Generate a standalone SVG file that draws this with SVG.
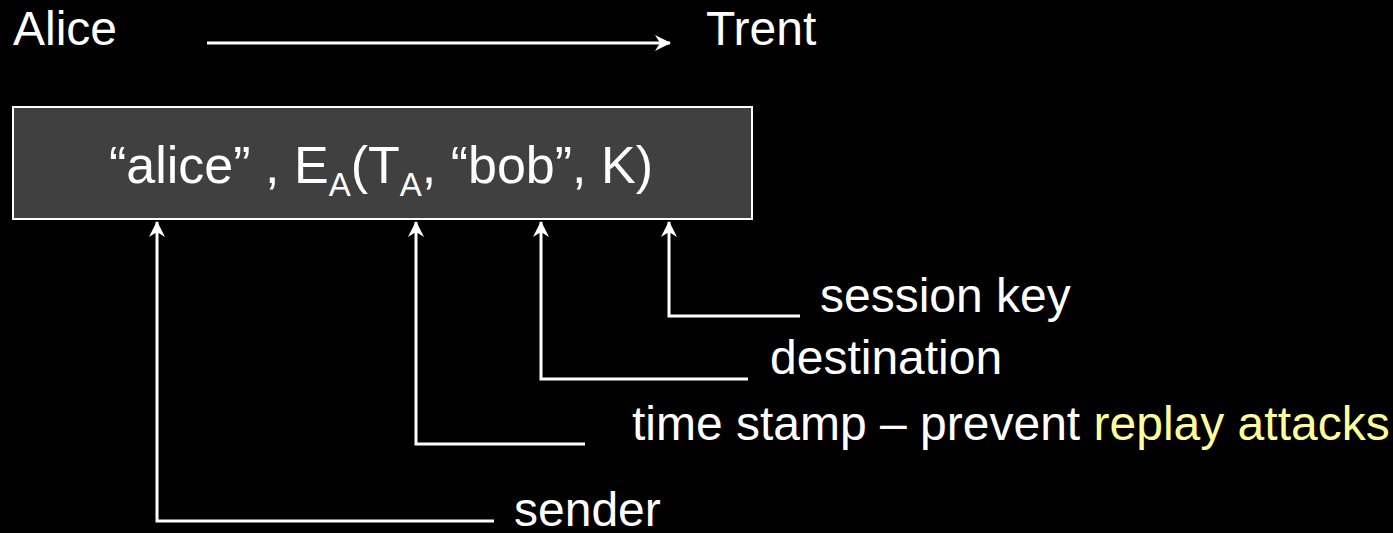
<svg xmlns="http://www.w3.org/2000/svg" width="1393" height="533" viewBox="0 0 1393 533">
  <style>
    .lbl { font-family: "Liberation Sans", Arial, sans-serif; font-size: 48px; fill: #ffffff; }
    .msg { font-size: 52px; }
    .hl { fill: #ffff99; }
    .wire { fill: none; stroke: #ffffff; stroke-width: 3; }
  </style>
  <defs>
    <marker id="tip" viewBox="0 0 16 16" refX="15" refY="8" markerWidth="16" markerHeight="16" orient="auto" markerUnits="userSpaceOnUse">
      <path d="M0,0 L16,8 L0,16 L5,8 Z" fill="#ffffff"/>
    </marker>
  </defs>
  <rect width="1393" height="533" fill="#000000"/>

  <g id="alice"><text class="lbl" x="13" y="45">Alice</text></g>
  <g id="trent"><text class="lbl" x="706" y="45">Trent</text></g>

  <g id="message">
    <rect x="13" y="107" width="739" height="112" fill="#404040" stroke="#ffffff" stroke-width="2"/>
    <text class="lbl msg" x="381" y="183" text-anchor="middle">“alice” , E<tspan font-size="33" dy="13">A</tspan><tspan dy="-13">(T</tspan><tspan font-size="33" dy="13">A</tspan><tspan dy="-13">, “bob”, K)</tspan></text>
  </g>

  <g id="label-session"><text class="lbl" x="820" y="312">session key</text></g>
  <g id="label-destination"><text class="lbl" x="770" y="374">destination</text></g>
  <g id="label-timestamp"><text class="lbl" x="632" y="440">time stamp – prevent <tspan class="hl">replay attacks</tspan></text></g>
  <g id="label-sender"><text class="lbl" x="514" y="526">sender</text></g>

  <g id="connectors">
    <line class="wire" x1="207" y1="43" x2="670" y2="43" marker-end="url(#tip)"/>
    <polyline class="wire" points="800,316 669,316 669,222" marker-end="url(#tip)"/>
    <polyline class="wire" points="748,379 541,379 541,222" marker-end="url(#tip)"/>
    <polyline class="wire" points="585,444 416,444 416,222" marker-end="url(#tip)"/>
    <polyline class="wire" points="494,521 157,521 157,222" marker-end="url(#tip)"/>
  </g>
</svg>
